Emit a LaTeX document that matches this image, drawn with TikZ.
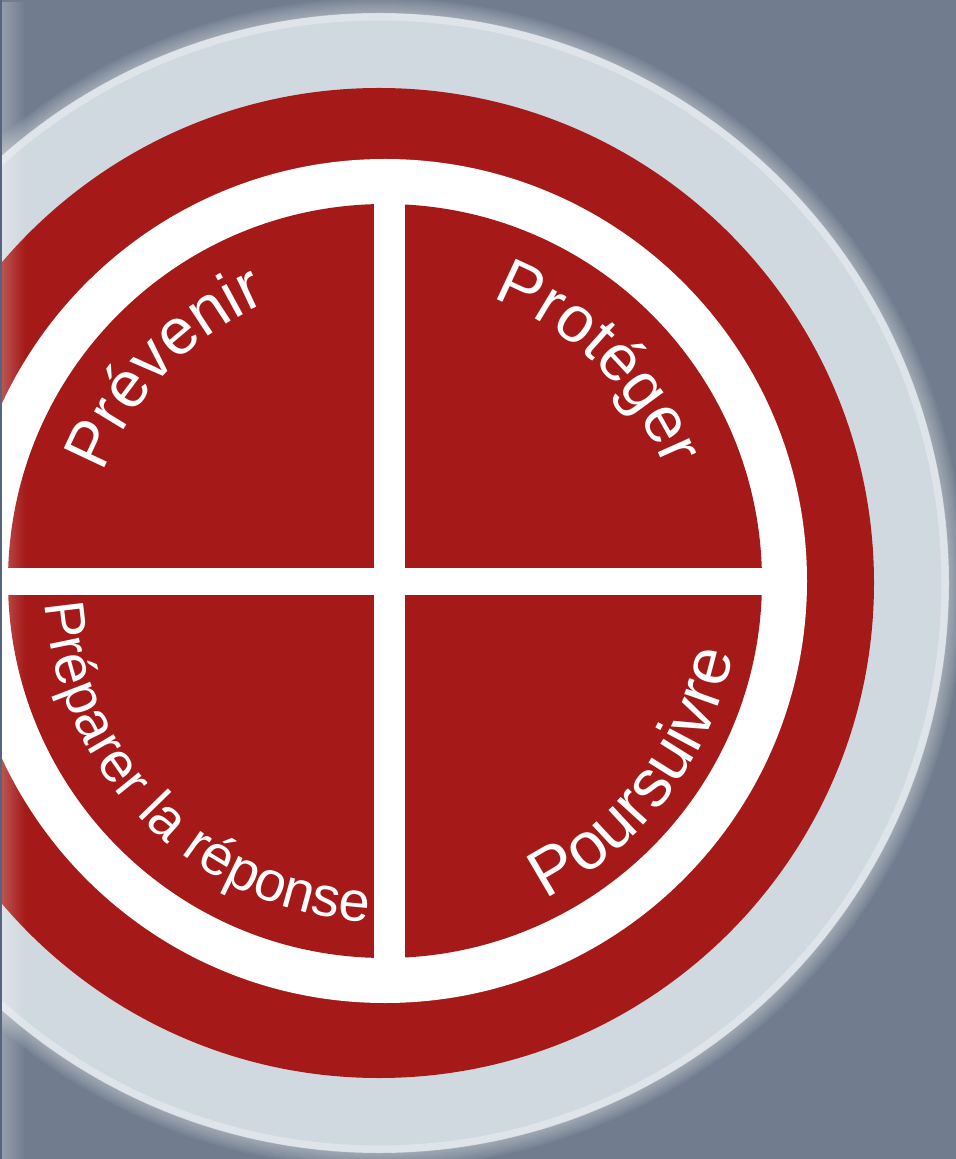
\documentclass[tikz,border=0pt]{standalone}
\usepackage{fontspec}
\setmainfont{Liberation Sans}
\usetikzlibrary{decorations.text, fadings}

\definecolor{slate}{HTML}{717D8F}
\definecolor{mist}{HTML}{D1D9E0}
\definecolor{brick}{HTML}{A51A18}
\definecolor{rim}{HTML}{56657C}

\newcommand{\labelsize}[1]{\fontsize{#1}{#1}\selectfont}

\begin{document}
\begin{tikzpicture}[x=0.02cm, y=0.02cm,
    arclabel/.style={decorate, decoration={text along path, text align=center, text color=white, text={#1}}}]
    \useasboundingbox (-385,-578) rectangle (571,581);
    \fill[slate] (-385,-578) rectangle (571,581);

    \coordinate (c) at (0,0);
    \coordinate (o) at (-6,-2);

    % halo and outer discs
    \foreach \g in {1,...,8}
        \fill[white, opacity=0.05] (o) circle[radius=569+2*\g];
    \fill[mist] (o) circle[radius=570];
    \draw[white, opacity=0.3, line width=4pt] (o) circle[radius=566];
    \fill[brick] (o) circle[radius=495];
    \fill[white] (c) circle[radius=422];
    \fill[brick] (c) circle[radius=377];

    % cross
    \fill[white] (-11,-390) rectangle (20,390);
    \fill[white] (-390,-14) rectangle (390,13);

    % labels
    \path[arclabel={|\labelsize{37}|Prévenir}] (181:302) arc[start angle=181, end angle=91, radius=302];
    \path[arclabel={|\labelsize{37}|Protéger}] (90.5:302) arc[start angle=90.5, end angle=0.5, radius=302];
    \path[arclabel={|\labelsize{38}|Poursuivre}] (-87.5:356) arc[start angle=-87.5, end angle=12.5, radius=356];
    \path[arclabel={|\labelsize{32}|Préparer la réponse}] (170.5:341) arc[start angle=170.5, end angle=280.5, radius=341];

    % left edge
    \fill[white, opacity=0.25, path fading=east] (-383,-578) rectangle (-360,581);
    \fill[rim] (-385,-578) rectangle (-383,581);
\end{tikzpicture}
\end{document}
